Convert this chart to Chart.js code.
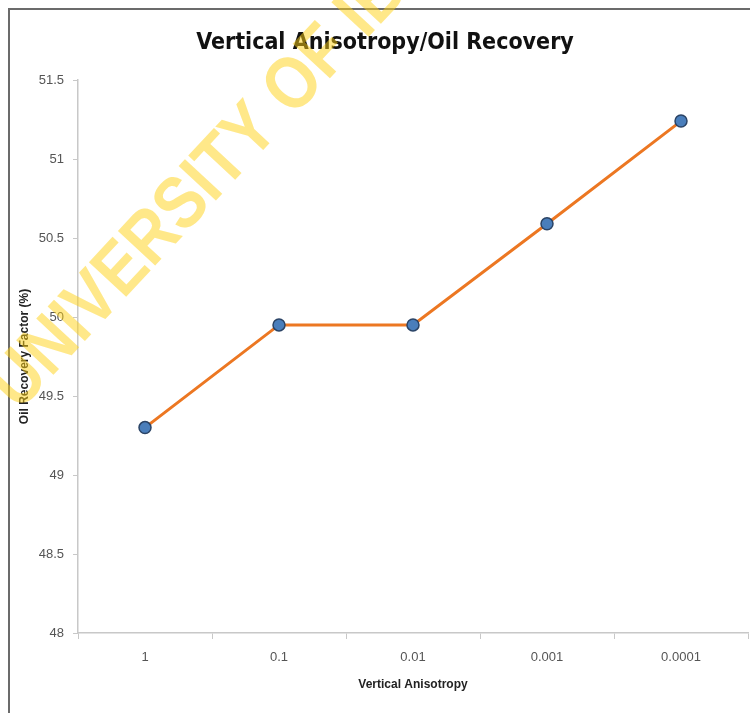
<!DOCTYPE html>
<html>
<head>
<meta charset="utf-8">
<script src="https://cdn.jsdelivr.net/npm/chart.js@4/dist/chart.umd.min.js"></script>
<style>
  html, body { margin: 0; padding: 0; background: #fff; }
  #wrap { position: relative; width: 750px; height: 713px; }
</style>
</head>
<body>
<div id="wrap"><canvas id="recovery-chart"></canvas></div>
<script>
const chartTitle = "Vertical Anisotropy/Oil Recovery";
const anisotropy = ["1", "0.1", "0.01", "0.001", "0.0001"];
const recoveryFactor = [49.30, 49.95, 49.95, 50.59, 51.24];
const yMin = 48;
const yMax = 51.5;
const yStep = 0.5;

const recoveryCanvas = document.querySelector("#recovery-chart");

/* ==================================== */
/*     Frame, title + watermark         */
/* ==================================== */
const framePlugin = {
  id: "frame",
  beforeDraw(chart) {
    const ctx = chart.ctx;
    ctx.save();
    ctx.strokeStyle = "#6b6b6b";
    ctx.lineWidth = 2;
    ctx.beginPath();
    ctx.moveTo(9, chart.height);
    ctx.lineTo(9, 9);
    ctx.lineTo(chart.width, 9);
    ctx.stroke();
    // title is drawn here so it can sit a bit right of the canvas centre
    ctx.font = "bold 23px 'DejaVu Sans Condensed', 'Liberation Sans', sans-serif";
    ctx.fillStyle = "#111";
    ctx.textAlign = "center";
    ctx.textBaseline = "middle";
    ctx.fillText(chartTitle, 385, 43);
    ctx.restore();
  },
};

const watermarkPlugin = {
  id: "watermark",
  afterDraw(chart) {
    const ctx = chart.ctx;
    ctx.save();
    ctx.translate(4, 398);
    ctx.rotate(-47 * Math.PI / 180);
    ctx.scale(0.865, 1); // taller, narrower letters like the original stamp
    ctx.font = "bold 74px 'Liberation Sans', Arial, sans-serif";
    ctx.fillStyle = "rgba(255, 210, 20, 0.5)";
    ctx.textBaseline = "middle";
    ctx.fillText("UNIVERSITY OF IBADAN", 0, 0);
    ctx.restore();
  },
};

/* ==================================== */
/*              Chart                   */
/* ==================================== */
const recoveryChart = new Chart(recoveryCanvas, {
  type: "line",
  data: {
    labels: anisotropy,
    datasets: [
      {
        label: "Oil Recovery Factor (%)",
        data: recoveryFactor,
        borderColor: "#ec7722",
        borderWidth: 3,
        pointRadius: 6,
        pointBackgroundColor: "#4a7ebb",
        pointBorderColor: "#2b4466",
        pointBorderWidth: 1.5,
        tension: 0,
        fill: false,
      },
    ],
  },
  options: {
    responsive: true,
    maintainAspectRatio: false,
    animation: false,
    layout: {
      autoPadding: false,
      padding: { left: 0, right: 2, top: 80, bottom: 0 },
    },
    plugins: {
      legend: { display: false },
      tooltip: { enabled: false },
      title: { display: false },
    },
    scales: {
      x: {
        offset: true,
        afterFit: (scale) => { scale.height = 80; },
        grid: {
          offset: true,
          drawOnChartArea: false,
          drawTicks: true,
          tickLength: 6,
          color: "#c8c8c8",
        },
        border: { color: "#c8c8c8", width: 1.5 },
        ticks: {
          color: "#555",
          padding: 11,
          font: { family: "'Liberation Sans', sans-serif", size: 13 },
        },
        title: {
          display: true,
          text: "Vertical Anisotropy",
          color: "#222",
          font: { family: "'Liberation Sans', sans-serif", size: 12, weight: "bold" },
          padding: { top: 0, bottom: 21 },
        },
      },
      y: {
        min: yMin,
        max: yMax,
        afterFit: (scale) => { scale.width = 78; },
        grid: {
          drawOnChartArea: false,
          drawTicks: true,
          tickLength: 5,
          color: "#c8c8c8",
        },
        border: { color: "#c8c8c8", width: 1.5 },
        ticks: {
          stepSize: yStep,
          color: "#555",
          padding: 9,
          font: { family: "'Liberation Sans', sans-serif", size: 13 },
          callback: (value) => String(Number(value.toFixed(1))),
        },
        title: {
          display: true,
          text: "Oil Recovery Factor (%)",
          color: "#222",
          font: { family: "'Liberation Sans', sans-serif", size: 12, weight: "bold" },
          padding: { top: 17, bottom: 0 },
        },
      },
    },
  },
  plugins: [framePlugin, watermarkPlugin],
});
</script>
</body>
</html>
